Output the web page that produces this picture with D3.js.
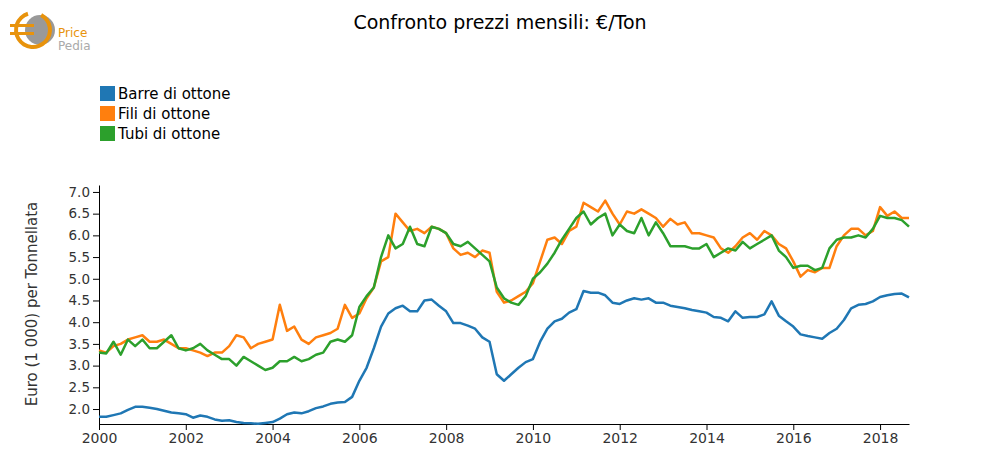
<!DOCTYPE html><html><head><meta charset="utf-8"><script src="https://d3js.org/d3.v7.min.js"></script>
<style>body{margin:0;background:#fff;font-family:"DejaVu Sans",sans-serif}</style></head><body><svg id="c" width="1000" height="475"></svg>
<script>
const seriesNames=["Barre di ottone","Fili di ottone","Tubi di ottone"];
const colors=["#1f77b4","#ff7f0e","#2ca02c"];
const yTicks=[2.0,2.5,3.0,3.5,4.0,4.5,5.0,5.5,6.0,6.5,7.0];
const xTicks=[2000,2002,2004,2006,2008,2010,2012,2014,2016,2018];
// bimonthly values from Jan 2000
const barre=[1.82,1.82,1.86,1.90,1.98,2.05, 2.05,2.03,2.00,1.96,1.92,1.90, 1.88,1.80,1.85,1.82,1.76,1.73, 1.74,1.70,1.68,1.67,1.66,1.68, 1.70,1.78,1.88,1.92,1.90,1.95, 2.02,2.06,2.12,2.15,2.16,2.28, 2.65,2.95,3.40,3.90,4.20,4.32, 4.38,4.25,4.25,4.50,4.52,4.38, 4.25,3.98,3.98,3.92,3.85,3.65, 3.55,2.80,2.65,2.80,2.95,3.08, 3.15,3.55,3.85,4.02,4.08,4.22, 4.30,4.72,4.68,4.68,4.62,4.45, 4.42,4.50,4.55,4.52,4.55,4.45, 4.45,4.38,4.35,4.32,4.28,4.25, 4.22,4.12,4.10,4.02,4.25,4.10, 4.12,4.12,4.18,4.48,4.15,4.02, 3.90,3.72,3.68,3.65,3.62,3.75, 3.85,4.05,4.32,4.40,4.42,4.48, 4.58,4.62,4.65,4.66,4.57];
const fili=[3.35,3.30,3.45,3.50,3.60,3.65, 3.70,3.55,3.55,3.60,3.50,3.40, 3.40,3.35,3.30,3.22,3.30,3.30, 3.45,3.70,3.65,3.40,3.50,3.55, 3.60,4.40,3.80,3.90,3.60,3.50, 3.65,3.70,3.75,3.85,4.40,4.10, 4.20,4.55,4.80,5.40,5.50,6.50, 6.30,6.10,6.15,6.05,6.20,6.15, 6.05,5.70,5.55,5.60,5.50,5.65, 5.60,4.70,4.45,4.50,4.60,4.70, 4.90,5.40,5.90,5.95,5.80,6.10, 6.20,6.75,6.65,6.55,6.80,6.50, 6.25,6.55,6.50,6.60,6.50,6.40, 6.20,6.38,6.25,6.30,6.05,6.05, 6.00,5.95,5.70,5.60,5.75,5.95, 6.05,5.90,6.10,6.00,5.80,5.70, 5.40,5.05,5.20,5.15,5.25,5.25, 5.75,6.00,6.15,6.15,6.00,6.10, 6.65,6.45,6.55,6.40,6.40];
const tubi=[3.30,3.28,3.55,3.25,3.60,3.45, 3.60,3.40,3.40,3.55,3.70,3.40, 3.35,3.40,3.50,3.35,3.25,3.15, 3.15,3.00,3.20,3.10,3.00,2.90, 2.95,3.10,3.10,3.20,3.10,3.15, 3.25,3.30,3.55,3.60,3.55,3.70, 4.35,4.60,4.80,5.50,6.00,5.70, 5.80,6.20,5.80,5.75,6.20,6.15, 6.05,5.80,5.75,5.85,5.70,5.55, 5.40,4.80,4.55,4.45,4.40,4.60, 5.00,5.15,5.35,5.60,5.90,6.15, 6.40,6.55,6.25,6.40,6.50,6.00, 6.25,6.10,6.05,6.40,6.00,6.30, 6.05,5.75,5.75,5.75,5.70,5.70, 5.80,5.50,5.60,5.70,5.65,5.85, 5.70,5.80,5.90,6.00,5.65,5.50, 5.25,5.30,5.30,5.20,5.25,5.70, 5.90,5.95,5.95,6.00,5.95,6.15, 6.45,6.40,6.40,6.35,6.20];
const svg=d3.select("#c");
const x=d3.scaleLinear().domain([2000,2018+8/12]).range([99,909]);
const y=d3.scaleLinear().domain([1.655,7.16]).range([424,185]);
svg.append("g").attr("transform","translate(0,424)").call(d3.axisBottom(x).tickValues(xTicks).tickFormat(d3.format("d")).tickSizeOuter(0))
 .call(g=>g.selectAll("text").attr("font-size",14).attr("font-family","DejaVu Sans").attr("fill","#333"));
svg.append("g").attr("transform","translate(99,0)").call(d3.axisLeft(y).tickValues(yTicks).tickFormat(d3.format(".1f")).tickSizeOuter(0))
 .call(g=>g.selectAll("text").attr("font-size",13.5).attr("font-family","DejaVu Sans").attr("fill","#333"));
const line=d3.line().x((d,i)=>x(2000+i*2/12)).y(d=>y(d));
[barre,fili,tubi].forEach((s,k)=>svg.append("path").datum(s).attr("d",line).attr("fill","none").attr("stroke",colors[k]).attr("stroke-width",2.5).attr("stroke-linejoin","round"));
svg.append("text").attr("x",500).attr("y",29).attr("text-anchor","middle").attr("font-size",19).text("Confronto prezzi mensili: €/Ton");
svg.append("text").attr("transform","translate(37,304) rotate(-90)").attr("text-anchor","middle").attr("font-size",15).attr("fill","#333").text("Euro (1 000) per Tonnellata");
seriesNames.forEach((n,k)=>{svg.append("rect").attr("x",100).attr("y",86+k*20).attr("width",15).attr("height",15).attr("fill",colors[k]);
 svg.append("text").attr("x",118).attr("y",99+k*20).attr("font-size",15).text(n);});
// logo
svg.append("circle").attr("cx",40).attr("cy",30).attr("r",15).attr("fill","#999");
svg.append("path").attr("d",d3.arc()({innerRadius:15,outerRadius:19,startAngle:0.5,endAngle:2*Math.PI-0.3})).attr("transform","translate(33,30)").attr("fill","#e8930c");
svg.append("rect").attr("x",10).attr("y",24).attr("width",24).attr("height",3).attr("fill","#e8930c");
svg.append("rect").attr("x",10).attr("y",32).attr("width",24).attr("height",3).attr("fill","#e8930c");
svg.append("text").attr("x",58).attr("y",37).attr("font-size",12).attr("fill","#e8930c").text("Price");
svg.append("text").attr("x",58).attr("y",50).attr("font-size",12).attr("fill","#aaa").text("Pedia");
</script></body></html>
